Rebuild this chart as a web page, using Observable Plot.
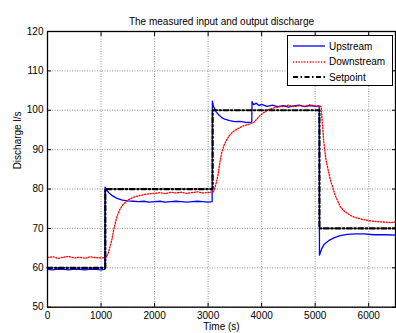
<!DOCTYPE html>
<html><head><meta charset="utf-8">
<script src="https://cdn.jsdelivr.net/npm/d3@7"></script>
<script src="https://cdn.jsdelivr.net/npm/@observablehq/plot@0.6"></script>
<style>
body{margin:0;background:#fff;font-family:"Liberation Sans",Arial,sans-serif;}
#wrap{position:relative;width:396px;height:333px;overflow:hidden;}
#legend{position:absolute;left:287px;top:35px;width:106px;height:51px;border:1px solid #000;background:#fff;box-sizing:border-box;font-size:10px;}
#legend .row{position:absolute;left:4px;height:14px;display:flex;align-items:center;}
#legend span{margin-left:4px;color:#000;}
</style></head>
<body><div id="wrap"><div id="legend"></div></div>
<script>
const title = "The measured input and output discharge";
const xLabel = "Time (s)";
const yLabel = "Discharge l/s";
const xTicks = [0,1000,2000,3000,4000,5000,6000];
const yTicks = [50,60,70,80,90,100,110,120];
const seriesNames = ["Upstream","Downstream","Setpoint"];

const upT = [0,100,200,300,400,500,600,700,800,900,1000,1070,1075,1100,1150,1200,1250,1300,1400,1500,1600,1700,1800,1900,2000,2100,2200,2300,2400,2500,2600,2700,2800,2900,3000,3075,3080,3100,3150,3200,3250,3300,3400,3500,3600,3700,3815,3820,3850,3900,3950,4000,4100,4200,4300,4400,4500,4600,4700,4800,4900,5000,5075,5080,5120,5170,5250,5350,5450,5600,5750,5900,6100,6300,6500];
const upV = [59.6,59.5,59.7,59.6,59.5,59.7,59.6,59.5,59.7,59.6,59.5,59.6,80.5,79.8,79.0,78.4,78.0,77.6,77.2,77.0,76.9,76.8,76.9,76.7,76.8,76.9,76.7,76.8,76.9,76.8,76.7,76.8,76.9,76.8,76.7,76.8,102.3,101.0,99.6,98.8,98.2,97.8,97.4,97.1,97.2,96.9,97.0,102.2,101.4,101.8,101.2,101.5,101.0,101.3,100.9,101.2,100.8,101.1,101.3,100.9,101.2,101.0,101.1,63.2,64.8,66.0,66.9,67.6,68.1,68.5,68.6,68.6,68.4,68.4,68.3];

const dnT = [0,100,200,300,400,500,600,700,800,900,1000,1100,1130,1160,1200,1250,1300,1350,1420,1500,1600,1700,1800,1900,2000,2100,2200,2300,2400,2500,2600,2700,2800,2900,3000,3100,3130,3160,3190,3220,3253,3300,3350,3400,3470,3550,3650,3750,3850,3900,3950,4000,4060,4150,4280,4400,4500,4600,4700,4800,4900,5000,5110,5130,5160,5200,5280,5370,5470,5550,5700,5850,6000,6100,6200,6300,6400,6500];
const dnV = [62.6,62.8,62.4,62.7,62.9,62.5,62.7,62.4,62.8,62.6,62.5,62.7,63.5,65.0,67.0,70.5,73.2,74.8,76.2,77.2,77.9,78.3,78.6,78.8,78.9,79.1,78.8,79.2,79.0,79.2,78.9,79.1,79.3,79.0,79.1,79.3,80.5,82.0,84.0,86.8,89.2,91.2,92.6,93.6,94.6,95.3,96.0,96.4,96.9,97.6,98.4,99.0,99.6,100.3,100.8,101.0,101.3,100.9,101.2,101.0,101.4,101.1,101.0,97.5,92.0,87.5,82.5,78.5,75.5,74.3,73.0,72.4,72.0,71.8,71.7,71.6,71.5,71.6];

const spT = [0,1080,1080,3085,3085,5080,5080,6500];
const spV = [60,60,80,80,100,100,70,70];

const colors = ["#0000ff","#ff0000","#000000"];
const dashes = [null,"1.2,1.6","5,2.5,1.5,2.5"];
const widths = [1.3,1.3,2.2];

const up = upT.map((t,i)=>({t, v:upV[i]}));
const dn = dnT.map((t,i)=>({t, v:dnV[i]}));
const sp = spT.map((t,i)=>({t, v:spV[i]}));

const font = "Liberation Sans, Arial, sans-serif";
const fmt = d => String(d);
const chart = Plot.plot({
  width:396, height:333,
  marginLeft:47, marginRight:1, marginTop:31, marginBottom:26.3,
  style:{fontFamily:font, fontSize:"10px", background:"#fff", overflow:"visible"},
  x:{domain:[0,6500], ticks:xTicks},
  y:{domain:[50,120], ticks:yTicks},
  marks:[
    Plot.gridX(xTicks,{stroke:"#777", strokeOpacity:1, strokeDasharray:"1,1.5", strokeWidth:0.8}),
    Plot.gridY(yTicks,{stroke:"#777", strokeOpacity:1, strokeDasharray:"1,1.5", strokeWidth:0.8}),
    Plot.line(up,{x:"t", y:"v", stroke:colors[0], strokeWidth:widths[0]}),
    Plot.line(dn,{x:"t", y:"v", stroke:colors[1], strokeWidth:widths[1], strokeDasharray:dashes[1]}),
    Plot.line(sp,{x:"t", y:"v", stroke:colors[2], strokeWidth:widths[2], strokeDasharray:dashes[2]}),
    Plot.axisX(xTicks,{anchor:"bottom", tickSize:0, tickPadding:5, label:null, tickFormat:fmt, fill:"#000", fontSize:10}),
    Plot.axisX(xTicks,{anchor:"bottom", tickSize:-4, text:null, label:null, stroke:"#000"}),
    Plot.axisX(xTicks,{anchor:"top", tickSize:-4, text:null, label:null, stroke:"#000"}),
    Plot.axisY(yTicks,{anchor:"left", tickSize:0, tickPadding:4, label:null, tickFormat:fmt, fill:"#000", fontSize:10}),
    Plot.axisY(yTicks,{anchor:"left", tickSize:-4, text:null, label:null, stroke:"#000"}),
    Plot.axisY(yTicks,{anchor:"right", tickSize:-4, text:null, label:null, stroke:"#000"}),
    Plot.frame({stroke:"#000", strokeWidth:1.3}),
    Plot.text([title],{frameAnchor:"top", dy:-14, fontSize:10, fill:"#000"}),
    Plot.text([xLabel],{frameAnchor:"bottom", dy:23, fontSize:10, fill:"#000"}),
    Plot.text([yLabel],{frameAnchor:"left", dx:-30, rotate:-90, fontSize:10, fill:"#000"})
  ]
});
const wrap = document.getElementById("wrap");
wrap.insertBefore(chart, wrap.firstChild);

const legend = document.getElementById("legend");
seriesNames.forEach((name,i)=>{
  const row = document.createElement("div");
  row.className = "row";
  row.style.top = (3 + i*15.5) + "px";
  const dash = dashes[i] ? `stroke-dasharray="${dashes[i]}"` : "";
  row.innerHTML = `<svg width="33" height="6"><line x1="1" y1="3" x2="33" y2="3" stroke="${colors[i]}" stroke-width="${widths[i]}" ${dash}/></svg><span>${name}</span>`;
  legend.appendChild(row);
});
</script></body></html>
